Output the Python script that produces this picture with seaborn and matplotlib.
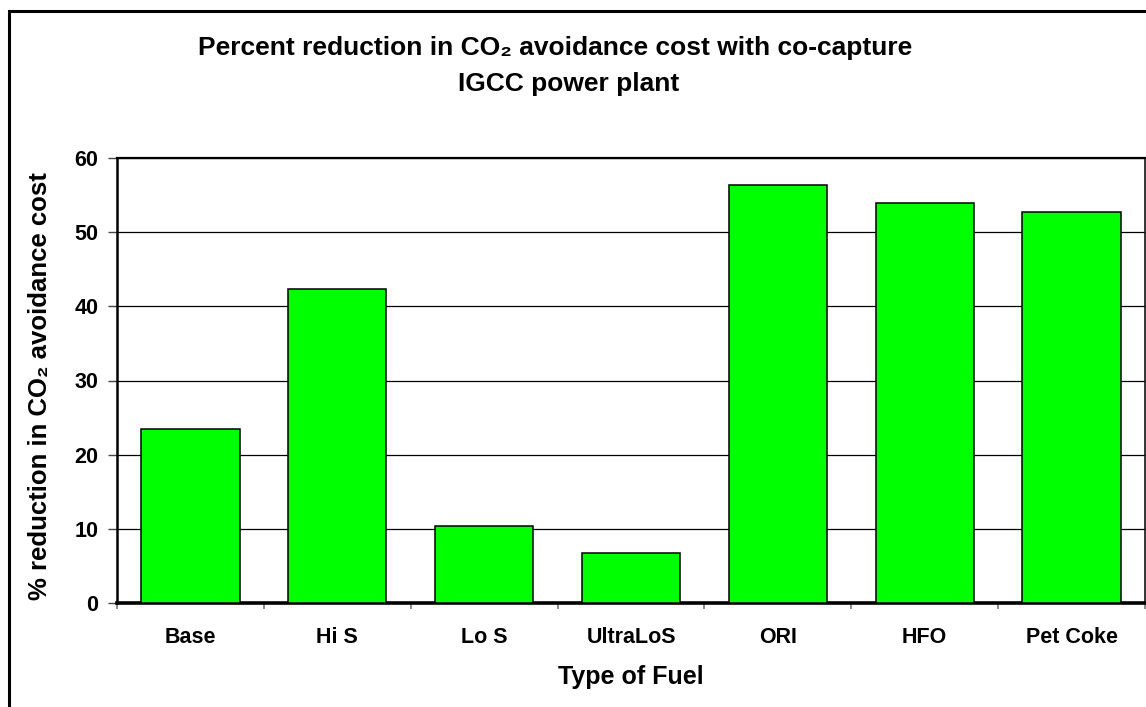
import matplotlib
matplotlib.use("Agg")
import matplotlib.pyplot as plt
from matplotlib.patches import Rectangle
from matplotlib.ticker import MultipleLocator, FixedLocator
import seaborn as sns
import pandas as pd

fuels = ["Base", "Hi S", "Lo S", "UltraLoS", "ORI", "HFO", "Pet Coke"]
reduction_pct = [23.4, 42.3, 10.4, 6.7, 56.4, 54.0, 52.7]

title_line1 = "Percent reduction in CO\u2082 avoidance cost with co-capture"
title_line2 = "IGCC power plant"
x_title = "Type of Fuel"
y_title = "% reduction in CO\u2082 avoidance cost"

sns.set_theme(style="white")
plt.rcParams["font.family"] = ["Liberation Sans", "DejaVu Sans"]
plt.rcParams["font.weight"] = "bold"
plt.rcParams["text.color"] = "black"
plt.rcParams["axes.labelcolor"] = "black"
plt.rcParams["xtick.color"] = "black"
plt.rcParams["ytick.color"] = "black"

df = pd.DataFrame({"fuel": fuels, "reduction": reduction_pct})

W, H = 1146, 707
fig = plt.figure(figsize=(W / 100, H / 100), dpi=100)
fig.patch.set_facecolor("white")

ax_left, ax_right, ax_top, ax_bottom = 117, 1145, 158, 603
ax = fig.add_axes([ax_left / W, 1 - ax_bottom / H,
                   (ax_right - ax_left) / W, (ax_bottom - ax_top) / H])

sns.barplot(data=df, x="fuel", y="reduction", color="#00FF00",
            saturation=1, width=0.67, edgecolor="black", linewidth=1.1,
            ax=ax, zorder=3)

ax.set_xlim(-0.5, len(fuels) - 0.5)
ax.set_ylim(0, 60)
ax.yaxis.set_major_locator(MultipleLocator(10))

# horizontal gridlines
ax.yaxis.grid(True, color="black", linewidth=0.9, zorder=1)
ax.set_axisbelow(True)

# spines
for side, lw in (("top", 1.6), ("right", 1.1), ("left", 1.8), ("bottom", 2.6)):
    ax.spines[side].set_visible(True)
    ax.spines[side].set_color("black")
    ax.spines[side].set_linewidth(lw)

# category separators on the x axis
ax.xaxis.set_minor_locator(FixedLocator([i - 0.5 for i in range(len(fuels) + 1)]))
ax.tick_params(axis="x", which="minor", bottom=True, length=4.5, width=1.2,
               color="#777777", direction="out")
ax.tick_params(axis="x", which="major", bottom=True, length=0, pad=17,
               labelsize=15.5, labelcolor="black")
ax.tick_params(axis="y", which="major", left=True, length=6.5, width=1.0,
               color="#444444", direction="out", pad=7, labelsize=15.5,
               labelcolor="black")
for lab in ax.get_xticklabels() + ax.get_yticklabels():
    lab.set_fontweight("bold")

ax.set_xlabel(x_title, fontsize=18, fontweight="bold", color="black")
ax.set_ylabel(y_title, fontsize=18.5, fontweight="bold", color="black")
ax.xaxis.label.set_va("center")
ax.yaxis.label.set_va("center")
ax.xaxis.set_label_coords(0.5, (ax_bottom - 677) / (ax_bottom - ax_top))
ax.yaxis.set_label_coords((40 - ax_left) / (ax_right - ax_left),
                          (ax_bottom - 386) / (ax_bottom - ax_top))

# two-line chart title
fig.text(555 / W, 1 - 48.5 / H, title_line1, ha="center", va="center",
         fontsize=19, fontweight="bold", color="black")
fig.text(569 / W, 1 - 84.5 / H, title_line2, ha="center", va="center",
         fontsize=19, fontweight="bold", color="black")

# chart-area frame
fig.patches.append(Rectangle((8.5 / W, -0.2), 1.2, 1 - 10.5 / H + 0.2,
                             transform=fig.transFigure, fill=False,
                             edgecolor="black", linewidth=2.2, clip_on=False))

fig.savefig("out.png", dpi=100, facecolor="white")
